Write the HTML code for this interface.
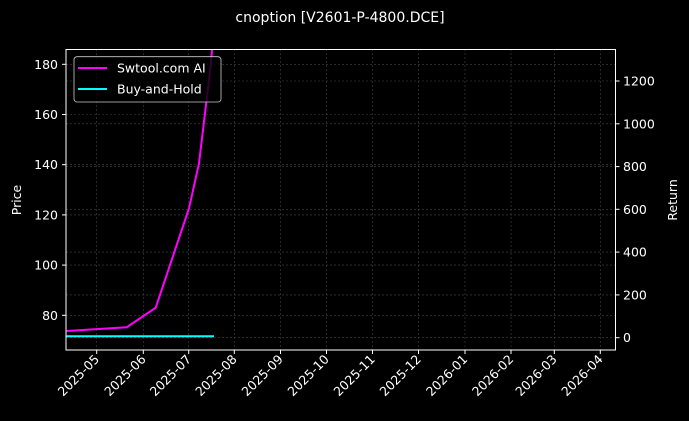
<!DOCTYPE html>
<html><head><meta charset="utf-8"><style>
body{margin:0;background:#000;}
svg{display:block;font-family:"DejaVu Sans","Liberation Sans",sans-serif;}
</style></head><body>
<svg width="689" height="421" viewBox="0 0 689 421" xmlns="http://www.w3.org/2000/svg">
<rect width="689" height="421" fill="#000"/>
<text x="340" y="22" fill="#fff" font-size="14" text-anchor="middle">cnoption [V2601-P-4800.DCE]</text>
<g stroke="#444" stroke-width="0.6" stroke-dasharray="2,2">
<line x1="66" x2="615" y1="64.3" y2="64.3"/><line x1="66" x2="615" y1="114.5" y2="114.5"/><line x1="66" x2="615" y1="164.7" y2="164.7"/><line x1="66" x2="615" y1="214.9" y2="214.9"/><line x1="66" x2="615" y1="265.1" y2="265.1"/><line x1="66" x2="615" y1="315.3" y2="315.3"/>
<line x1="66" x2="615" y1="81" y2="81"/><line x1="66" x2="615" y1="123.8" y2="123.8"/><line x1="66" x2="615" y1="166.6" y2="166.6"/><line x1="66" x2="615" y1="209.3" y2="209.3"/><line x1="66" x2="615" y1="252.1" y2="252.1"/><line x1="66" x2="615" y1="294.9" y2="294.9"/><line x1="66" x2="615" y1="337.7" y2="337.7"/>
<line y1="49" y2="350" x1="96.7" x2="96.7"/><line y1="49" y2="350" x1="143.3" x2="143.3"/><line y1="49" y2="350" x1="188.7" x2="188.7"/><line y1="49" y2="350" x1="234.3" x2="234.3"/><line y1="49" y2="350" x1="280.5" x2="280.5"/><line y1="49" y2="350" x1="326.5" x2="326.5"/><line y1="49" y2="350" x1="372.5" x2="372.5"/><line y1="49" y2="350" x1="418.5" x2="418.5"/><line y1="49" y2="350" x1="465" x2="465"/><line y1="49" y2="350" x1="511" x2="511"/><line y1="49" y2="350" x1="554.3" x2="554.3"/><line y1="49" y2="350" x1="600.3" x2="600.3"/>
</g>
<defs><clipPath id="c"><rect x="66" y="49.5" width="549.5" height="300.5"/></clipPath></defs>
<g clip-path="url(#c)" fill="none" stroke-width="2">
<polyline stroke="#00ffff" points="66,336.3 214,336.3"/>
<polyline stroke="#ff00ff" points="66.7,331 126.7,327.3 155.7,307.7 189,208.3 199,163.3 210,71.7 213,40"/>
</g>
<rect x="66" y="49.5" width="549.5" height="300.5" fill="none" stroke="#fff" stroke-width="1"/>
<g stroke="#fff" stroke-width="1">
<line x1="62" x2="66" y1="64.3" y2="64.3"/><line x1="62" x2="66" y1="114.5" y2="114.5"/><line x1="62" x2="66" y1="164.7" y2="164.7"/><line x1="62" x2="66" y1="214.9" y2="214.9"/><line x1="62" x2="66" y1="265.1" y2="265.1"/><line x1="62" x2="66" y1="315.3" y2="315.3"/>
<line x1="615.5" x2="619.5" y1="81" y2="81"/><line x1="615.5" x2="619.5" y1="123.8" y2="123.8"/><line x1="615.5" x2="619.5" y1="166.6" y2="166.6"/><line x1="615.5" x2="619.5" y1="209.3" y2="209.3"/><line x1="615.5" x2="619.5" y1="252.1" y2="252.1"/><line x1="615.5" x2="619.5" y1="294.9" y2="294.9"/><line x1="615.5" x2="619.5" y1="337.7" y2="337.7"/>
<line y1="350" y2="354" x1="96.7" x2="96.7"/><line y1="350" y2="354" x1="143.3" x2="143.3"/><line y1="350" y2="354" x1="188.7" x2="188.7"/><line y1="350" y2="354" x1="234.3" x2="234.3"/><line y1="350" y2="354" x1="280.5" x2="280.5"/><line y1="350" y2="354" x1="326.5" x2="326.5"/><line y1="350" y2="354" x1="372.5" x2="372.5"/><line y1="350" y2="354" x1="418.5" x2="418.5"/><line y1="350" y2="354" x1="465" x2="465"/><line y1="350" y2="354" x1="511" x2="511"/><line y1="350" y2="354" x1="554.3" x2="554.3"/><line y1="350" y2="354" x1="600.3" x2="600.3"/>
</g>
<g fill="#fff" font-size="12.5" text-anchor="end">
<text x="58" y="68.8">180</text><text x="58" y="119">160</text><text x="58" y="169.2">140</text><text x="58" y="219.4">120</text><text x="58" y="269.6">100</text><text x="58" y="319.8">80</text>
</g>
<g fill="#fff" font-size="12.5">
<text x="623" y="85.5">1200</text><text x="623" y="128.3">1000</text><text x="623" y="171.1">800</text><text x="623" y="213.8">600</text><text x="623" y="256.6">400</text><text x="623" y="299.4">200</text><text x="623" y="342.2">0</text>
</g>
<text transform="translate(21,200) rotate(-90)" fill="#fff" font-size="12.5" text-anchor="middle">Price</text>
<text transform="translate(677,200) rotate(-90)" fill="#fff" font-size="12.5" text-anchor="middle">Return</text>
<g fill="#fff" font-size="12.5" text-anchor="end">
<text transform="translate(100,360) rotate(-45)">2025-05</text>
<text transform="translate(146.6,360) rotate(-45)">2025-06</text>
<text transform="translate(192,360) rotate(-45)">2025-07</text>
<text transform="translate(237.6,360) rotate(-45)">2025-08</text>
<text transform="translate(283.8,360) rotate(-45)">2025-09</text>
<text transform="translate(329.8,360) rotate(-45)">2025-10</text>
<text transform="translate(375.8,360) rotate(-45)">2025-11</text>
<text transform="translate(421.8,360) rotate(-45)">2025-12</text>
<text transform="translate(468.3,360) rotate(-45)">2026-01</text>
<text transform="translate(514.3,360) rotate(-45)">2026-02</text>
<text transform="translate(557.6,360) rotate(-45)">2026-03</text>
<text transform="translate(603.6,360) rotate(-45)">2026-04</text>
</g>
<rect x="74" y="56.7" width="147" height="45.3" rx="3" fill="#000" fill-opacity="0.8" stroke="#ccc" stroke-width="0.8"/>
<line x1="78" x2="107" y1="68" y2="68" stroke="#ff00ff" stroke-width="2"/>
<line x1="78" x2="107" y1="89" y2="89" stroke="#00ffff" stroke-width="2"/>
<text x="117" y="72.5" fill="#fff" font-size="12.5">Swtool.com AI</text>
<text x="117" y="93.5" fill="#fff" font-size="12.5">Buy-and-Hold</text>
</svg>
</body></html>
